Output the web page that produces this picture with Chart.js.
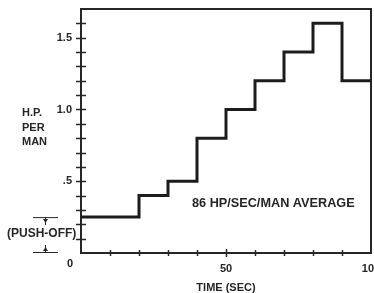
<!DOCTYPE html>
<html><head><meta charset="utf-8">
<script src="https://cdn.jsdelivr.net/npm/chart.js@4.4.1/dist/chart.umd.min.js"></script>
<style>
html,body{margin:0;padding:0;background:#fff;overflow:hidden;width:374px;height:293px}
#wrap{width:386px;height:293px;position:relative}
canvas{display:block}
</style></head>
<body><div id="wrap"><canvas id="c" width="386" height="293"></canvas></div>
<script>
// ---- data ----
const timeSec  = [0, 20, 30, 40, 50, 60, 70, 80, 90, 100];
const hpPerMan = [0.25, 0.4, 0.5, 0.8, 1.0, 1.2, 1.4, 1.6, 1.2, 1.2];
const yTickLabels = {5: '.5', 10: '1.0', 15: '1.5'};   // keyed by value*10
const xTickLabels = {50: '50', 100: '100'};
const originLabel = '0';
const yAxisLabel = ['H.P.', 'PER', 'MAN'];
const xAxisTitle = 'TIME (SEC)';
const averageNote = '86 HP/SEC/MAN AVERAGE';
const pushOffNote = '(PUSH-OFF)';

const INK = '#262626';
const FONT = 'Liberation Sans, Arial, sans-serif';

const points = timeSec.map((t, i) => ({x: t, y: hpPerMan[i]}));

const decor = {
  id: 'decor',
  beforeDatasetsDraw(chart) {
    const {ctx, chartArea: a, scales: {x, y}} = chart;
    ctx.save();
    ctx.strokeStyle = INK;
    ctx.lineWidth = 2;
    ctx.strokeRect(a.left, a.top, a.right - a.left, a.bottom - a.top);
    // crossing tick marks
    ctx.lineWidth = 1.5;
    y.ticks.forEach(t => {
      if (t.value <= y.min || t.value >= y.max - 1e-9) return;
      const py = Math.round(y.getPixelForValue(t.value)) + 0.5;
      ctx.beginPath(); ctx.moveTo(a.left - 5, py); ctx.lineTo(a.left + 5, py); ctx.stroke();
    });
    x.ticks.forEach(t => {
      if (t.value <= x.min || t.value >= x.max) return;
      const px = Math.round(x.getPixelForValue(t.value)) + 0.5;
      const h = t.value === 50 ? 4 : 3;
      ctx.beginPath(); ctx.moveTo(px, a.bottom - h); ctx.lineTo(px, a.bottom + h); ctx.stroke();
    });
    ctx.restore();
  },
  afterDraw(chart) {
    const {ctx, chartArea: a, scales: {x, y}} = chart;
    ctx.save();
    ctx.fillStyle = INK;
    ctx.strokeStyle = INK;
    ctx.font = 'bold 11px ' + FONT;
    // origin label
    ctx.textAlign = 'center'; ctx.textBaseline = 'middle';
    ctx.fillText(originLabel, x.getPixelForValue(0) - 11, y.getPixelForValue(0) + 11);
    // y axis label (stacked)
    ctx.textAlign = 'left';
    yAxisLabel.forEach((s, i) => ctx.fillText(s, 22, 113 + i * 14.5));
    // average note
    ctx.font = 'bold 12.7px ' + FONT;
    ctx.textAlign = 'left';
    ctx.fillText(averageNote, 192, 203);
    // push-off bracket
    ctx.font = 'bold 12px ' + FONT;
    const y0 = y.getPixelForValue(0), y1 = y.getPixelForValue(hpPerMan[0]);
    ctx.fillText(pushOffNote, 7, (y0 + y1) / 2 - 1);
    ctx.lineWidth = 1;
    const bx0 = 33, bx1 = 58, cx = 45;
    ctx.beginPath();
    ctx.moveTo(bx0, y1 + 0.5); ctx.lineTo(bx1, y1 + 0.5);
    ctx.moveTo(bx0, y0 - 0.5); ctx.lineTo(bx1, y0 - 0.5);
    ctx.moveTo(cx + 0.5, y1); ctx.lineTo(cx + 0.5, y1 + 8);
    ctx.moveTo(cx + 0.5, y0); ctx.lineTo(cx + 0.5, y0 - 8);
    ctx.stroke();
    ctx.beginPath();
    ctx.moveTo(cx + 0.5, y1 + 6); ctx.lineTo(cx - 2, y1 + 2); ctx.lineTo(cx + 3, y1 + 2); ctx.closePath();
    ctx.moveTo(cx + 0.5, y0 - 6); ctx.lineTo(cx - 2, y0 - 2); ctx.lineTo(cx + 3, y0 - 2); ctx.closePath();
    ctx.fill();
    ctx.restore();
  }
};

new Chart(document.getElementById('c'), {
  type: 'line',
  data: {
    datasets: [{
      data: points,
      stepped: 'before',
      borderColor: '#1c1c1c',
      borderWidth: 3,
      pointRadius: 0,
      fill: false,
      tension: 0
    }]
  },
  options: {
    responsive: false,
    devicePixelRatio: 1,
    animation: false,
    layout: {padding: {left: 0, top: 9, right: 15, bottom: 0}},
    plugins: {legend: {display: false}, tooltip: {enabled: false}},
    scales: {
      x: {
        type: 'linear', min: 0, max: 100,
        grid: {display: false, drawTicks: false},
        border: {display: false},
        ticks: {
          stepSize: 10, padding: 9, maxRotation: 0, autoSkip: false,
          color: INK, font: {family: FONT, size: 11, weight: 'bold'},
          callback: v => xTickLabels[Math.round(v)] || ''
        },
        title: {display: true, text: xAxisTitle, color: INK,
          font: {family: FONT, size: 11, weight: 'bold', lineHeight: 1}, padding: {top: 0, bottom: 0}},
        afterFit: s => { s.height = 40; s.paddingLeft = 0; s.paddingRight = 0; }
      },
      y: {
        type: 'linear', min: 0, max: 1.7,
        grid: {display: false, drawTicks: false},
        border: {display: false},
        ticks: {
          stepSize: 0.1, padding: 9, autoSkip: false,
          color: INK, font: {family: FONT, size: 11, weight: 'bold'},
          callback: v => yTickLabels[Math.round(v * 10)] || ''
        },
        afterFit: s => { s.width = 81; s.paddingTop = 0; s.paddingBottom = 0; }
      }
    }
  },
  plugins: [decor]
});
</script>
</body></html>
